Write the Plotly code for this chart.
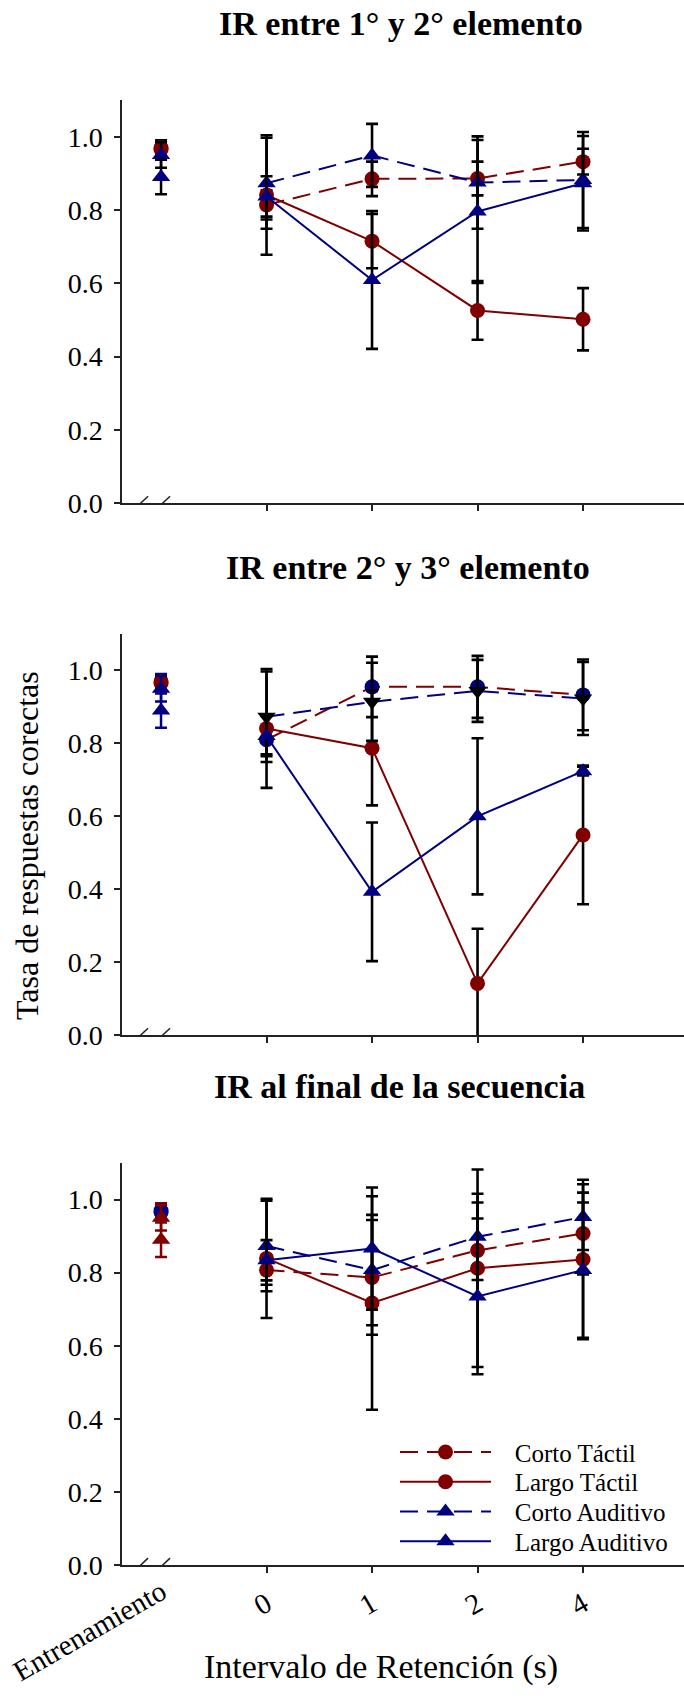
import plotly.graph_objects as go

# ---------------- data ----------------
retention_labels = ["0", "1", "2", "4"]
training_label = "Entrenamiento"
series_names = ["Corto Táctil", "Largo Táctil", "Corto Auditivo", "Largo Auditivo"]
panel_titles = ["IR entre 1° y 2° elemento", "IR entre 2° y 3° elemento", "IR al final de la secuencia"]
y_ticks = [0.0, 0.2, 0.4, 0.6, 0.8, 1.0]

train_mean = [0.965, 0.97, 0.95, 0.89]
train_err = [0.02, 0.02, 0.035, 0.047]

# panel 1: IR entre 1 y 2
p1_corto_tactil = [0.814, 0.885, 0.886, 0.932]
p1_corto_tactil_err = [0.04, 0.047, 0.046, 0.035]
p1_largo_tactil = [0.841, 0.715, 0.526, 0.502]
p1_largo_tactil_err = [0.163, 0.074, 0.08, 0.085]
p1_corto_auditivo = [0.873, 0.949, 0.875, 0.882]
p1_corto_auditivo_err = [0.124, 0.086, 0.126, 0.131]
p1_largo_auditivo = [0.837, 0.609, 0.796, 0.873]
p1_largo_auditivo_err = [0.055, 0.188, 0.195, 0.129]

# panel 2: IR entre 2 y 3
p2_corto_tactil = [0.81, 0.955, 0.955, 0.933]
p2_corto_tactil_err = [0.04, 0.083, 0.085, 0.097]
p2_largo_tactil = [0.841, 0.787, 0.142, 0.549]
p2_largo_tactil_err = [0.163, 0.157, 0.15, 0.19]
p2_corto_auditivo = [0.873, 0.914, 0.944, 0.923]
p2_corto_auditivo_err = [0.124, 0.107, 0.085, 0.1]
p2_largo_auditivo = [0.82, 0.393, 0.600, 0.724]
p2_largo_auditivo_err = [0.055, 0.19, 0.214, 0.012]

# panel 3: IR al final de la secuencia
p3_corto_tactil = [0.807, 0.787, 0.861, 0.907]
p3_corto_tactil_err = [0.04, 0.157, 0.131, 0.112]
p3_largo_tactil = [0.839, 0.717, 0.812, 0.836]
p3_largo_tactil_err = [0.163, 0.292, 0.27, 0.218]
p3_corto_auditivo = [0.873, 0.807, 0.898, 0.952]
p3_corto_auditivo_err = [0.124, 0.151, 0.118, 0.09]
p3_largo_auditivo = [0.834, 0.866, 0.735, 0.807]
p3_largo_auditivo_err = [0.055, 0.167, 0.213, 0.185]

panels = [
    [(p1_corto_tactil, p1_corto_tactil_err), (p1_largo_tactil, p1_largo_tactil_err),
     (p1_corto_auditivo, p1_corto_auditivo_err), (p1_largo_auditivo, p1_largo_auditivo_err)],
    [(p2_corto_tactil, p2_corto_tactil_err), (p2_largo_tactil, p2_largo_tactil_err),
     (p2_corto_auditivo, p2_corto_auditivo_err), (p2_largo_auditivo, p2_largo_auditivo_err)],
    [(p3_corto_tactil, p3_corto_tactil_err), (p3_largo_tactil, p3_largo_tactil_err),
     (p3_corto_auditivo, p3_corto_auditivo_err), (p3_largo_auditivo, p3_largo_auditivo_err)],
]

# ---------------- styles ----------------
RED = "#800000"
BLUE = "#000080"
FONT = "Liberation Serif, Times New Roman, serif"
W, H = 684, 1703
PLOT_L, PLOT_R = 122, 684
NBSP = "\u00a0"

series_style = [
    dict(color=RED, dash="18px,9px", symbol="circle", size=15),
    dict(color=RED, dash="solid", symbol="circle", size=15),
    dict(color=BLUE, dash="18px,9px", symbol="triangle-up", size=16),
    dict(color=BLUE, dash="solid", symbol="triangle-up", size=16),
]
# marker colour / symbol quirks of each panel (as in the original figure)
marker_override = [
    [None, None, None, None],
    [dict(color=BLUE, symbol="circle"), None, dict(color="black", symbol="triangle-down"), None],
    [None, None, None, None],
]
train_marker_color = [
    [RED, RED, BLUE, BLUE],
    [RED, RED, BLUE, BLUE],
    [BLUE, BLUE, RED, RED],
]
train_err_color = ["black", BLUE, RED]

# pixel geometry of the three plot areas (top, bottom)
panel_px = [(101, 508), (640, 1045), (1174, 1580)]
title_px = [(401, 24), (408, 573), (399, 1097)]
legend_rows_px = [1466, 1496, 1526, 1556]
legend_left_px = 395

x_pos = [0, 1, 2, 3]
train_x = -1
x_range = [-1.37, 3.957]


def px_x(px):
    return (px - PLOT_L) / (PLOT_R - PLOT_L)


def px_y(py):
    return (H - py) / H


fig = go.Figure()
legend_ids = ["legend", "legend2", "legend3", "legend4"]

for p in range(3):
    xa = "x" if p == 0 else f"x{p+1}"
    ya = "y" if p == 0 else f"y{p+1}"
    # training points
    for s in range(4):
        st = series_style[s]
        fig.add_trace(go.Scatter(
            x=[train_x], y=[train_mean[s]], xaxis=xa, yaxis=ya, mode="markers",
            marker=dict(color=train_marker_color[p][s], symbol=st["symbol"], size=st["size"], line=dict(width=0)),
            error_y=dict(type="data", array=[train_err[s]], color=train_err_color[p], thickness=2.5, width=6),
            showlegend=False, hoverinfo="skip"))
    # retention series
    for s in range(4):
        st = series_style[s]
        vals, errs = panels[p][s]
        mcol, msym = st["color"], st["symbol"]
        ov = marker_override[p][s]
        if ov:
            mcol, msym = ov["color"], ov["symbol"]
        fig.add_trace(go.Scatter(
            x=x_pos, y=vals, xaxis=xa, yaxis=ya, mode="lines+markers",
            name=NBSP * 3 + series_names[s],
            line=dict(color=st["color"], width=2, dash=st["dash"]),
            marker=dict(color=mcol, symbol=msym, size=st["size"], line=dict(width=0)),
            error_y=dict(type="data", array=errs, color="black", thickness=2.6, width=6),
            showlegend=(p == 2), legend=legend_ids[s]))

axis_common = dict(showline=True, linecolor="#222", linewidth=1.5, ticks="outside",
                   tickcolor="#222", tickwidth=1.5, ticklen=6, showgrid=False, zeroline=False)

layout = dict(width=W, height=H, margin=dict(l=PLOT_L, r=W - PLOT_R, t=0, b=0),
              paper_bgcolor="white", plot_bgcolor="white",
              font=dict(family=FONT, color="black"),
              annotations=[], shapes=[])

for i, lid in enumerate(legend_ids):
    layout[lid] = dict(x=px_x(legend_left_px), y=px_y(legend_rows_px[i]),
                       xanchor="left", yanchor="middle", bgcolor="rgba(0,0,0,0)",
                       font=dict(family=FONT, size=25, color="black"),
                       itemwidth=91)

for p in range(3):
    sfx = "" if p == 0 else str(p + 1)
    top, bot = panel_px[p]
    layout["yaxis" + sfx] = dict(axis_common, range=[0, 1.1], tickvals=y_ticks, tickformat=".1f",
                                 tickfont=dict(family=FONT, size=28, color="black"),
                                 domain=[px_y(bot), px_y(top)],
                                 anchor="x" + sfx, ticklabelstandoff=6)
    layout["xaxis" + sfx] = dict(axis_common, range=x_range, tickvals=x_pos,
                                 ticktext=retention_labels, showticklabels=(p == 2),
                                 tickfont=dict(family=FONT, size=29, color="black"),
                                 tickangle=-30, domain=[0, 1], anchor="y" + sfx,
                                 ticklabelstandoff=3)
    tx, ty = title_px[p]
    layout["annotations"].append(dict(
        text="<b>" + panel_titles[p] + "</b>", xref="paper", yref="paper",
        x=px_x(tx), y=px_y(ty), xanchor="center", yanchor="middle",
        showarrow=False, font=dict(family=FONT, size=34, color="black")))
    # axis break marks
    for (a0, a1) in [(-30, -13), (-8, 9)]:
        layout["shapes"].append(dict(
            type="line", xref="x" + sfx, yref="y" + sfx, xsizemode="pixel", ysizemode="pixel",
            xanchor=train_x, yanchor=0, x0=a0, x1=a1, y0=-9, y1=7,
            line=dict(color="#222", width=1.5)))

# training tick label (no tick mark in the original)
layout["annotations"].append(dict(
    text=training_label, xref="paper", yref="paper",
    x=px_x(89), y=px_y(1646), xanchor="center", yanchor="middle",
    textangle=-30, showarrow=False, font=dict(family=FONT, size=29, color="black")))
# y-axis title
layout["annotations"].append(dict(
    text="Tasa de respuestas corectas", xref="paper", yref="paper",
    x=px_x(27), y=px_y(854), xanchor="center", yanchor="middle",
    textangle=-90, showarrow=False, font=dict(family=FONT, size=32, color="black")))
# x-axis title
layout["annotations"].append(dict(
    text="Intervalo de Retención (s)", xref="paper", yref="paper",
    x=px_x(381), y=px_y(1683), xanchor="center", yanchor="middle",
    showarrow=False, font=dict(family=FONT, size=34, color="black")))

fig.update_layout(layout)
fig.write_html("out.html")
